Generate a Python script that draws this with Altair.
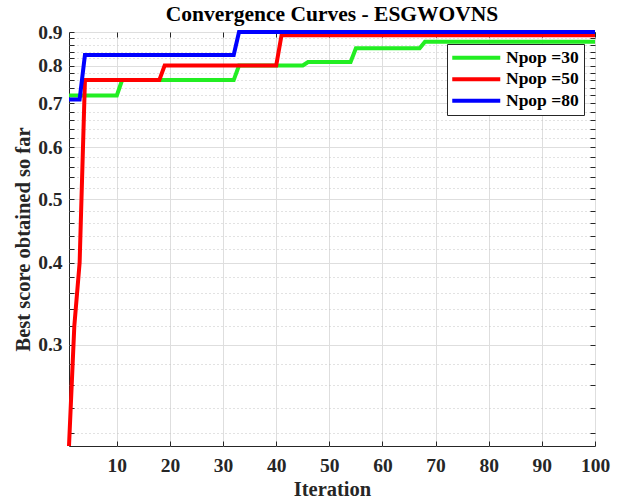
import altair as alt
import pandas as pd

# ---------------- data ----------------
iterations = list(range(1, 101))

npop30 = [
    0.72, 0.72, 0.72, 0.72, 0.72, 0.72, 0.72, 0.72, 0.72, 0.72,
    0.76, 0.76, 0.76, 0.76, 0.76, 0.76, 0.76, 0.76, 0.76, 0.76,
    0.76, 0.76, 0.76, 0.76, 0.76, 0.76, 0.76, 0.76, 0.76, 0.76,
    0.76, 0.76, 0.80, 0.80, 0.80, 0.80, 0.80, 0.80, 0.80, 0.80,
    0.80, 0.80, 0.80, 0.80, 0.80, 0.81, 0.81, 0.81, 0.81, 0.81,
    0.81, 0.81, 0.81, 0.81, 0.85, 0.85, 0.85, 0.85, 0.85, 0.85,
    0.85, 0.85, 0.85, 0.85, 0.85, 0.85, 0.85, 0.87, 0.87, 0.87,
    0.87, 0.87, 0.87, 0.87, 0.87, 0.87, 0.87, 0.87, 0.87, 0.87,
    0.87, 0.87, 0.87, 0.87, 0.87, 0.87, 0.87, 0.87, 0.87, 0.87,
    0.87, 0.87, 0.87, 0.87, 0.87, 0.87, 0.87, 0.87, 0.87, 0.87,
]

npop50 = [
    0.21, 0.32, 0.40, 0.76, 0.76, 0.76, 0.76, 0.76, 0.76, 0.76,
    0.76, 0.76, 0.76, 0.76, 0.76, 0.76, 0.76, 0.76, 0.80, 0.80,
    0.80, 0.80, 0.80, 0.80, 0.80, 0.80, 0.80, 0.80, 0.80, 0.80,
    0.80, 0.80, 0.80, 0.80, 0.80, 0.80, 0.80, 0.80, 0.80, 0.80,
    0.89, 0.89, 0.89, 0.89, 0.89, 0.89, 0.89, 0.89, 0.89, 0.89,
    0.89, 0.89, 0.89, 0.89, 0.89, 0.89, 0.89, 0.89, 0.89, 0.89,
    0.89, 0.89, 0.89, 0.89, 0.89, 0.89, 0.89, 0.89, 0.89, 0.89,
    0.89, 0.89, 0.89, 0.89, 0.89, 0.89, 0.89, 0.89, 0.89, 0.89,
    0.89, 0.89, 0.89, 0.89, 0.89, 0.89, 0.89, 0.89, 0.89, 0.89,
    0.89, 0.89, 0.89, 0.89, 0.89, 0.89, 0.89, 0.89, 0.89, 0.89,
]

npop80 = [
    0.71, 0.71, 0.71, 0.83, 0.83, 0.83, 0.83, 0.83, 0.83, 0.83,
    0.83, 0.83, 0.83, 0.83, 0.83, 0.83, 0.83, 0.83, 0.83, 0.83,
    0.83, 0.83, 0.83, 0.83, 0.83, 0.83, 0.83, 0.83, 0.83, 0.83,
    0.83, 0.83, 0.90, 0.90, 0.90, 0.90, 0.90, 0.90, 0.90, 0.90,
    0.90, 0.90, 0.90, 0.90, 0.90, 0.90, 0.90, 0.90, 0.90, 0.90,
    0.90, 0.90, 0.90, 0.90, 0.90, 0.90, 0.90, 0.90, 0.90, 0.90,
    0.90, 0.90, 0.90, 0.90, 0.90, 0.90, 0.90, 0.90, 0.90, 0.90,
    0.90, 0.90, 0.90, 0.90, 0.90, 0.90, 0.90, 0.90, 0.90, 0.90,
    0.90, 0.90, 0.90, 0.90, 0.90, 0.90, 0.90, 0.90, 0.90, 0.90,
    0.90, 0.90, 0.90, 0.90, 0.90, 0.90, 0.90, 0.90, 0.90, 0.90,
]

series_names = ["Npop =30", "Npop =50", "Npop =80"]
series_colors = ["#22ee22", "#ff0000", "#0000ff"]

x_ticks = [10, 20, 30, 40, 50, 60, 70, 80, 90, 100]
x_domain = [1, 100]
y_major = [0.3, 0.4, 0.5, 0.6, 0.7, 0.8, 0.9]
y_minor = [0.22, 0.24, 0.26, 0.28,
           0.32, 0.34, 0.36, 0.38,
           0.42, 0.44, 0.46, 0.48,
           0.52, 0.54, 0.56, 0.58,
           0.62, 0.64, 0.66, 0.68,
           0.72, 0.74, 0.76, 0.78,
           0.82, 0.84, 0.86, 0.88]
y_all = sorted(y_major + y_minor)
y_domain = [0.21, 0.9]

rows = []
for name, vals in zip(series_names, [npop30, npop50, npop80]):
    for it, v in zip(iterations, vals):
        rows.append({"Iteration": it, "Score": v, "Series": name})
df = pd.DataFrame(rows)

# ---------------- style ----------------
W, H = 526, 414
FONT = "Liberation Serif"
DARK = "#262626"
MAJOR_TEST = "abs(datum.value*10 - round(datum.value*10)) < 0.001"

x_scale = alt.Scale(domain=x_domain, nice=False, zero=False)
y_scale = alt.Scale(type="log", domain=y_domain, nice=False, zero=False)

# main layer: lines, labels, grids
lines = alt.Chart(df).mark_line(strokeWidth=4, clip=False).encode(
    x=alt.X("Iteration:Q", scale=x_scale,
            axis=alt.Axis(values=x_ticks, grid=True, gridColor="#dedede",
                          ticks=False, domain=False,
                          labelFont=FONT, labelFontSize=19.5, labelFontWeight="bold",
                          labelColor=DARK, labelPadding=10, labelFlush=False,
                          title="Iteration", titleFont=FONT, titleFontSize=20.5,
                          titleFontWeight="bold", titleColor=DARK, titlePadding=5)),
    y=alt.Y("Score:Q", scale=y_scale,
            axis=alt.Axis(values=y_all,
                          labelExpr=MAJOR_TEST + " ? format(datum.value, '.1f') : ''",
                          grid=True,
                          gridDash={"condition": {"test": MAJOR_TEST, "value": []},
                                    "value": [1, 3]},
                          gridColor={"condition": {"test": MAJOR_TEST, "value": "#dedede"},
                                     "value": "#c4c4c4"},
                          ticks=False, domain=False, labelOverlap=False,
                          labelFlush=False, labelBound=False,
                          labelFont=FONT, labelFontSize=19.5, labelFontWeight="bold",
                          labelColor=DARK, labelPadding=7,
                          title="Best score obtained so far", titleFont=FONT,
                          titleFontSize=20.5, titleFontWeight="bold",
                          titleColor=DARK, titlePadding=4)),
    color=alt.Color("Series:N",
                    scale=alt.Scale(domain=series_names, range=series_colors),
                    legend=alt.Legend(title=None, orient="none", legendX=378, legendY=12,
                                      fillColor="white", strokeColor=DARK, padding=5,
                                      symbolType="M-4,0H4", symbolSize=144,
                                      symbolStrokeWidth=4, symbolOffset=15.5,
                                      labelOffset=21, rowPadding=2.5,
                                      labelFont=FONT, labelFontSize=17.5,
                                      labelFontWeight="bold", labelColor="black")),
)

def tick_layer(y_orient, x_orient):
    return alt.Chart(df).mark_point(opacity=0).encode(
        x=alt.X("Iteration:Q", scale=x_scale,
                axis=alt.Axis(orient=x_orient, offset=-H, values=x_ticks, grid=False,
                              labels=False, domain=False, ticks=True, tickSize=5,
                              tickColor=DARK, title=None)),
        y=alt.Y("Score:Q", scale=y_scale,
                axis=alt.Axis(orient=y_orient, offset=-W, values=y_all, grid=False,
                              labels=False, domain=False, ticks=True, tickSize=5,
                              tickColor=DARK, title=None)),
    )

ticks_a = tick_layer("right", "top")    # inward ticks on left & bottom edges
ticks_b = tick_layer("left", "bottom")  # inward ticks on right & top edges

chart = alt.layer(lines, ticks_a, ticks_b).resolve_axis(
    x="independent", y="independent"
).properties(
    width=W, height=H,
    padding={"left": 69, "top": 32, "right": 23, "bottom": 58},
    autosize=alt.AutoSizeParams(type="none"),
    title=alt.TitleParams("Convergence Curves - ESGWOVNS", font=FONT, fontSize=21.5,
                          fontWeight="bold", color="black", anchor="middle",
                          baseline="alphabetic", offset=7, dy=27),
).configure_view(stroke=DARK, strokeWidth=1)

chart.save("out.html", embed_options={"renderer": "svg", "actions": False})
